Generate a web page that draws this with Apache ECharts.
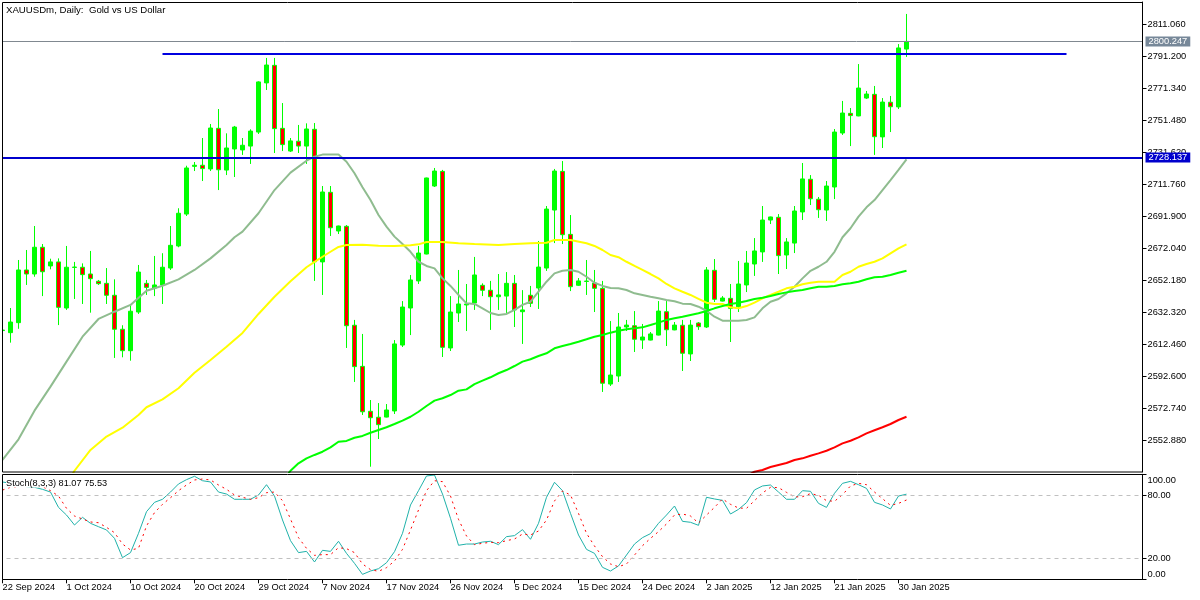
<!DOCTYPE html>
<html><head><meta charset="utf-8">
<style>html,body{margin:0;padding:0;background:#fff}#c{width:1200px;height:600px}</style>
<script src="https://cdn.jsdelivr.net/npm/echarts@6/dist/echarts.min.js"></script>
</head><body><div id="c"></div>
<script>
const opens=[2620.8,2619.5,2625.7,2658.4,2655.9,2672.5,2660.9,2663.4,2634.8,2660.0,2660.1,2655.9,2651.4,2650.1,2642.7,2621.6,2608.3,2632.3,2650.1,2647.2,2649.1,2659.6,2673.3,2693.1,2722.7,2723.4,2721.1,2746.3,2720.4,2733.5,2732.9,2735.3,2744.0,2774.5,2785.4,2746.3,2732.2,2738.3,2735.3,2745.7,2663.4,2706.6,2682.6,2685.5,2624.1,2598.6,2570.7,2567.0,2567.1,2570.9,2611.8,2634.8,2651.6,2668.3,2710.5,2719.6,2610.0,2631.7,2636.7,2637.9,2648.9,2645.8,2641.8,2642.2,2650.1,2632.5,2642.7,2647.2,2659.6,2695.6,2719.6,2680.5,2648.9,2651.3,2650.3,2647.0,2587.6,2592.6,2623.0,2623.8,2614.9,2614.9,2618.0,2632.5,2621.2,2624.1,2606.3,2625.5,2623.0,2658.2,2639.1,2640.8,2635.6,2649.1,2662.1,2669.6,2689.4,2691.1,2667.7,2675.1,2694.4,2714.7,2702.3,2695.6,2709.9,2743.4,2755.6,2754.0,2765.1,2767.4,2741.0,2762.5,2759.6,2795.5];
const closes=[2621.1,2626.1,2658.4,2655.9,2672.5,2657.3,2663.4,2635.2,2660.1,2660.2,2655.5,2653.0,2649.9,2642.7,2621.6,2608.3,2632.8,2657.1,2647.6,2649.1,2660.1,2673.7,2693.6,2721.7,2723.4,2721.3,2746.5,2720.6,2734.1,2747.1,2735.8,2744.6,2775.1,2785.6,2746.1,2736.2,2738.5,2735.3,2745.9,2663.5,2706.8,2684.6,2685.7,2623.8,2598.4,2570.4,2566.7,2562.4,2571.5,2612.5,2635.4,2652.2,2668.9,2715.5,2719.8,2610.4,2632.3,2637.3,2637.3,2655.3,2645.8,2641.8,2642.9,2650.1,2633.6,2633.6,2637.7,2660.2,2696.2,2719.8,2680.3,2648.0,2651.6,2651.5,2647.0,2588.1,2593.2,2623.0,2624.2,2615.4,2616.8,2618.7,2632.9,2621.3,2624.2,2606.7,2624.2,2623.2,2658.4,2640.2,2641.0,2634.6,2649.7,2662.7,2670.2,2689.4,2691.3,2667.3,2675.8,2695.0,2714.9,2702.6,2695.8,2710.5,2744.0,2755.8,2754.2,2771.3,2767.6,2741.1,2762.6,2759.7,2796.2,2800.25];
const lows=[2620.5,2613.3,2621.9,2649.1,2654.2,2642.2,2658.8,2624.2,2633.6,2640.4,2637.3,2631.9,2649.1,2637.3,2603.8,2604.2,2602.1,2631.1,2642.9,2642.2,2637.3,2658.4,2672.5,2691.9,2719.8,2713.6,2719.8,2708.0,2717.3,2716.1,2729.8,2724.2,2742.8,2770.1,2731.0,2732.2,2731.6,2731.0,2724.2,2651.6,2642.9,2679.5,2680.7,2610.0,2588.9,2568.4,2536.3,2553.5,2566.9,2569.0,2610.6,2618.0,2649.7,2668.1,2709.9,2604.4,2608.1,2626.1,2620.5,2633.6,2642.2,2621.2,2633.6,2631.7,2623.0,2612.5,2635.4,2634.2,2657.8,2675.1,2674.5,2645.3,2648.5,2642.9,2632.3,2582.7,2586.4,2588.9,2620.5,2607.5,2609.4,2614.7,2617.8,2611.2,2621.0,2595.7,2601.9,2621.2,2622.4,2638.5,2638.9,2613.7,2632.3,2644.7,2654.7,2663.4,2686.9,2655.9,2659.0,2668.9,2689.4,2698.7,2690.7,2688.8,2702.4,2742.2,2735.3,2753.8,2764.5,2729.8,2734.1,2744.0,2758.3,2790.6];
const highs=[2621.3,2634.8,2664.6,2670.8,2685.7,2674.5,2665.4,2665.6,2673.3,2663.4,2662.5,2670.2,2652.2,2659.6,2652.6,2624.1,2636.5,2661.5,2652.2,2667.1,2668.8,2685.7,2696.7,2723.1,2725.4,2740.3,2749.0,2758.3,2743.2,2747.8,2740.3,2745.7,2775.5,2790.0,2790.0,2762.0,2740.3,2748.4,2749.4,2749.6,2710.5,2710.5,2685.9,2686.3,2627.4,2618.7,2577.7,2575.8,2575.2,2614.9,2639.1,2655.3,2673.3,2715.7,2721.7,2720.5,2642.2,2658.4,2649.7,2666.5,2650.1,2651.6,2655.9,2657.1,2655.3,2645.9,2648.5,2676.4,2698.1,2721.1,2726.0,2692.5,2653.4,2664.6,2658.4,2651.6,2626.7,2631.7,2627.4,2632.9,2624.9,2619.9,2639.1,2639.1,2626.1,2627.4,2627.4,2626.1,2660.2,2665.2,2642.2,2649.7,2664.0,2670.2,2678.2,2698.1,2691.5,2693.1,2678.2,2698.1,2724.8,2717.3,2703.7,2713.6,2745.9,2763.3,2758.9,2786.2,2769.5,2772.6,2765.1,2766.4,2798.6,2817.3];

const maGrey=[[0,2540.5],[2,2553.3],[4,2571.1],[6,2586.0],[8,2601.5],[10,2617.0],[12,2628.0],[14,2632.5],[16,2636.7],[18,2645.5],[20,2648.6],[22,2652.6],[24,2658.4],[26,2665.6],[28,2673.9],[29,2678.7],[30,2682.2],[32,2693.6],[34,2708.0],[36,2718.8],[38,2726.2],[39,2728.7],[40,2730.0],[42,2730.0],[43,2725.6],[44,2718.4],[45,2709.7],[46,2701.8],[47,2692.5],[48,2685.3],[49,2679.1],[50,2674.5],[51,2669.7],[52,2663.5],[53,2660.9],[54,2659.4],[55,2653.2],[56,2648.5],[57,2642.9],[58,2637.7],[59,2637.3],[60,2634.6],[61,2631.7],[62,2630.5],[63,2631.1],[64,2633.6],[65,2636.7],[66,2638.7],[67,2644.9],[68,2651.1],[69,2656.3],[70,2657.9],[71,2658.4],[72,2657.3],[73,2654.2],[74,2650.5],[75,2648.5],[76,2647.2],[77,2647.0],[78,2646.0],[79,2643.9],[80,2642.9],[81,2641.8],[82,2640.8],[83,2639.8],[84,2639.0],[85,2637.5],[86,2637.3],[87,2635.6],[88,2633.1],[89,2629.4],[90,2626.9],[91,2626.9],[92,2626.9],[93,2627.4],[94,2629.0],[95,2634.6],[96,2638.7],[97,2640.4],[98,2643.9],[99,2648.0],[100,2653.2],[101,2657.9],[102,2660.4],[103,2663.5],[104,2669.7],[105,2678.7],[106,2684.3],[107,2691.5],[108,2697.3],[109,2701.8],[110,2708.0],[111,2714.2],[112,2720.5],[113,2727.1]];
const maYellow=[[8,2525.6],[9,2533.8],[11,2546.7],[13,2555.0],[15,2560.5],[17,2568.4],[18,2573.2],[20,2578.1],[22,2585.0],[24,2594.6],[26,2602.5],[28,2610.8],[30,2619.3],[32,2631.1],[34,2641.8],[36,2651.4],[38,2660.1],[39,2663.4],[40,2666.6],[41,2669.7],[42,2672.7],[43,2673.9],[45,2674.1],[47,2673.5],[49,2673.3],[51,2673.7],[52,2674.3],[53,2675.8],[55,2675.8],[57,2675.0],[59,2674.5],[62,2673.9],[64,2674.5],[66,2675.0],[68,2675.3],[69,2677.0],[71,2677.0],[73,2675.0],[74,2673.3],[75,2670.8],[76,2667.7],[77,2666.3],[78,2663.5],[79,2660.9],[80,2658.4],[81,2655.9],[82,2653.2],[83,2649.7],[84,2647.0],[85,2644.9],[86,2642.9],[87,2640.5],[88,2638.1],[89,2637.3],[90,2637.3],[91,2635.2],[92,2634.6],[93,2636.0],[94,2638.1],[95,2640.8],[96,2642.9],[97,2644.9],[98,2647.0],[99,2648.0],[100,2649.5],[101,2650.5],[102,2651.1],[103,2651.1],[104,2651.1],[105,2655.3],[106,2657.3],[107,2660.4],[108,2662.1],[109,2663.5],[110,2665.6],[111,2668.7],[112,2671.8],[113,2674.3]];
const maLime=[[35,2527.4],[36,2533.8],[37,2538.4],[38,2541.5],[39,2543.6],[40,2545.6],[41,2548.3],[42,2551.8],[43,2552.3],[44,2554.3],[45,2555.4],[46,2557.4],[47,2559.1],[48,2560.8],[49,2562.8],[50,2564.9],[51,2567.3],[52,2570.4],[53,2574.0],[54,2577.3],[55,2578.8],[56,2580.8],[57,2583.5],[58,2584.3],[59,2587.6],[60,2589.7],[61,2591.8],[62,2594.3],[63,2596.3],[64,2598.8],[65,2601.5],[66,2603.0],[67,2605.0],[68,2606.7],[69,2609.8],[70,2611.2],[71,2612.5],[72,2613.9],[73,2615.4],[74,2617.0],[75,2618.0],[76,2619.5],[77,2620.7],[78,2621.6],[79,2622.2],[80,2622.8],[81,2624.2],[82,2625.7],[83,2627.4],[84,2628.4],[85,2629.4],[86,2630.5],[87,2631.5],[88,2632.9],[89,2634.6],[90,2636.0],[91,2637.3],[92,2638.1],[93,2639.1],[94,2640.4],[95,2641.2],[96,2642.2],[97,2643.5],[98,2644.5],[99,2645.4],[100,2646.0],[101,2647.0],[102,2648.0],[103,2648.0],[104,2648.5],[105,2649.5],[106,2650.1],[107,2651.1],[108,2652.6],[109,2653.9],[110,2654.2],[111,2655.3],[112,2656.7],[113,2657.9]];
const maRed=[[93,2530.5],[94,2533.2],[95,2534.3],[96,2536.1],[97,2537.4],[98,2538.6],[99,2540.5],[100,2541.5],[101,2543.1],[102,2544.6],[103,2546.2],[104,2548.3],[105,2550.8],[106,2552.4],[107,2554.5],[108,2557.0],[109,2558.9],[110,2560.8],[111,2562.8],[112,2565.3],[113,2567.3]];

const stochMain=[92.7,91.4,89.8,88.2,87.6,85.7,83.1,68.5,61.2,51.7,59.0,53.3,50.1,47.0,39.0,20.6,25.4,43.8,64.4,73.3,76.2,83.1,90.8,94.9,98.1,93.9,92.7,83.1,81.2,76.2,76.2,76.2,80.3,90.1,79.3,56.5,36.8,25.4,26.6,16.5,27.6,26.6,36.2,24.7,15.2,4.7,7.9,10.1,15.8,26.3,43.8,70.8,84.4,98.4,99.3,81.2,58.1,32.4,33.6,33.6,35.5,36.2,33.0,40.6,41.6,47.3,38.1,53.3,78.1,92.4,84.4,62.8,42.2,28.5,24.7,11.4,7.9,12.7,23.1,33.6,39.7,43.5,53.3,61.2,69.8,55.2,54.3,51.4,78.1,76.5,75.2,62.2,66.6,73.0,85.1,88.9,89.8,83.1,76.2,76.2,84.4,83.8,72.3,68.5,81.9,91.4,93.3,90.1,86.6,73.3,70.8,67.0,79.3,81.07];
const stochSignal=[85.0,87.6,88.2,88.9,88.9,88.2,84.4,79.3,67.6,60.3,57.4,54.6,53.9,49.5,44.4,33.6,27.9,29.5,50.8,63.5,71.4,77.7,84.4,89.8,94.6,95.5,94.6,89.8,85.7,80.3,78.1,76.2,77.7,82.5,83.1,74.9,57.4,39.7,29.5,22.8,23.5,23.5,30.1,29.2,25.4,14.6,9.2,7.6,11.1,17.4,28.5,47.0,66.0,84.4,93.9,93.0,79.3,57.1,41.2,33.0,34.3,35.2,34.9,36.8,38.4,43.1,42.2,46.0,56.5,74.6,84.1,80.3,62.8,43.8,31.7,21.6,14.6,12.0,14.6,23.1,32.0,39.0,45.4,52.7,61.2,62.2,60.3,53.6,61.2,68.5,76.5,71.4,67.9,67.6,74.9,82.2,87.6,87.3,82.8,78.4,78.7,81.6,80.0,74.9,74.3,80.6,88.9,91.4,90.1,83.1,76.8,70.4,72.3,75.53];

const dateTicks=['22 Sep 2024','1 Oct 2024','10 Oct 2024','20 Oct 2024','29 Oct 2024','7 Nov 2024','17 Nov 2024','26 Nov 2024','5 Dec 2024','15 Dec 2024','24 Dec 2024','2 Jan 2025','12 Jan 2025','21 Jan 2025','30 Jan 2025'];
const priceTicks=[2811.06,2791.2,2771.34,2751.48,2731.62,2711.76,2691.9,2672.04,2652.18,2632.32,2612.46,2592.6,2572.74,2552.88];
const stochTicks=[0,20,80,100];
const stochLevels=[80,20];
const lastPrice=2800.247, supportLine=2728.137, resistanceLine=2792.75;
const resistanceFrom=20, resistanceTo=133;
const titleText='XAUUSDm, Daily:  Gold vs US Dollar';
const stochText='Stoch(8,3,3) 81.07 75.53';

const FONT='"Liberation Sans"', FS=9.3;
const slotCount=143, tickEvery=8, lastTick=112;
const slots=[]; for(let i=0;i<slotCount;i++) slots.push(String(i));
const candles=opens.map((o,i)=>[o,closes[i],lows[i],highs[i]]);
const showTick=i=>i%tickEvery===0&&i<=lastTick;
const tag=(text,bg)=>({show:true,position:'end',distance:3,formatter:text,color:'#fff',backgroundColor:bg,
  padding:[1,3,0,3],fontFamily:FONT,fontSize:FS});
const lineSeries=(data,color,z)=>({type:'line',data,xAxisIndex:0,yAxisIndex:0,symbol:'none',silent:true,
  lineStyle:{color,width:2},z,animation:false});

const chart=echarts.init(document.getElementById('c'),null,{renderer:'canvas'});
chart.setOption({
  animation:false,backgroundColor:'#fff',
  title:[
    {text:titleText,left:6,top:5,padding:0,textStyle:{fontFamily:FONT,fontSize:9.65,fontWeight:'normal',color:'#000'}},
    {text:stochText,left:6,top:478.5,padding:0,backgroundColor:'#fff',textStyle:{fontFamily:FONT,fontSize:9.2,fontWeight:'normal',color:'#000'}}
  ],
  grid:[
    {left:-1.5,width:1144,top:2,height:470,outerBoundsMode:'none'},
    {left:-1.5,width:1144,top:474.3,height:105,outerBoundsMode:'none'}
  ],
  xAxis:[
    {type:'category',gridIndex:0,data:slots,boundaryGap:true,axisLine:{show:false},axisTick:{show:false},axisLabel:{show:false},splitLine:{show:false}},
    {type:'category',gridIndex:1,data:slots,boundaryGap:true,axisLine:{show:false},
     axisTick:{show:true,alignWithLabel:true,interval:showTick,length:4,lineStyle:{color:'#000',width:1}},
     axisLabel:{show:true,interval:showTick,align:'left',margin:4,color:'#000',fontFamily:FONT,fontSize:FS,hideOverlap:false,
       formatter:(v,i)=>dateTicks[i/tickEvery]||''},splitLine:{show:false}}
  ],
  yAxis:[
    {type:'value',gridIndex:0,position:'right',min:2533.02,max:2824.71,
     axisLine:{show:true,onZero:false,lineStyle:{color:'#000',width:1}},
     axisTick:{show:true,length:4,customValues:priceTicks,lineStyle:{color:'#000',width:1}},
     axisLabel:{show:true,margin:5,padding:[2,0,0,0],customValues:priceTicks,color:'#000',fontFamily:FONT,fontSize:FS,formatter:v=>v.toFixed(3)},
     splitLine:{show:false}},
    {type:'value',gridIndex:1,position:'right',min:0,max:100,
     axisLine:{show:true,onZero:false,lineStyle:{color:'#000',width:1}},
     axisTick:{show:true,length:4,customValues:stochTicks,lineStyle:{color:'#000',width:1}},
     axisLabel:{show:true,margin:5,padding:[2,0,0,0],customValues:stochTicks,color:'#000',fontFamily:FONT,fontSize:FS,
       verticalAlignMinLabel:'bottom',verticalAlignMaxLabel:'top',formatter:v=>v.toFixed(2)},
     splitLine:{show:false}}
  ],
  series:[
    {type:'candlestick',data:candles,xAxisIndex:0,yAxisIndex:0,barWidth:4,silent:true,z:2,
     itemStyle:{color:'#00ff00',color0:'#ff0000',borderColor:'#00ff00',borderColor0:'#00ff00',borderWidth:1}},
    lineSeries(maGrey,'#8fbc8f',3),
    lineSeries(maYellow,'#ffff00',3),
    lineSeries(maLime,'#00ff00',3),
    lineSeries(maRed,'#ff0000',3),
    {type:'line',data:[],xAxisIndex:0,yAxisIndex:0,z:5,silent:true,
     markLine:{silent:true,symbol:'none',animation:false,
       data:[
        {yAxis:lastPrice,lineStyle:{color:'#808890',width:1,type:'solid'},label:tag(lastPrice.toFixed(3),'#778899')},
        {yAxis:supportLine,lineStyle:{color:'#0000cd',width:2,type:'solid'},label:tag(supportLine.toFixed(3),'#0000cd')},
        [{coord:[resistanceFrom,resistanceLine]},{coord:[resistanceTo,resistanceLine],lineStyle:{color:'#0000e0',width:2,type:'solid'},label:{show:false}}]
       ]}},
    {type:'line',data:stochMain,xAxisIndex:1,yAxisIndex:1,symbol:'none',silent:true,z:3,
     lineStyle:{color:'#20b2aa',width:1},
     markLine:{silent:true,symbol:'none',animation:false,label:{show:false},
       lineStyle:{color:'#c0c0c0',width:1,type:[4,4]},data:stochLevels.map(v=>({yAxis:v}))}},
    {type:'line',data:stochSignal,xAxisIndex:1,yAxisIndex:1,symbol:'none',silent:true,z:3,
     lineStyle:{color:'#ff0000',width:1,type:[2,4]}}
  ],
  graphic:[
    {type:'rect',silent:true,z:100,shape:{x:0,y:0,width:2,height:600},style:{fill:'#fff'}},
    {type:'rect',silent:true,z:101,shape:{x:2.5,y:2.5,width:1140,height:469.5},style:{fill:'none',stroke:'#000',lineWidth:1}},
    {type:'rect',silent:true,z:101,shape:{x:2.5,y:474.5,width:1140,height:105},style:{fill:'none',stroke:'#000',lineWidth:1}}
  ]
});
</script></body></html>
